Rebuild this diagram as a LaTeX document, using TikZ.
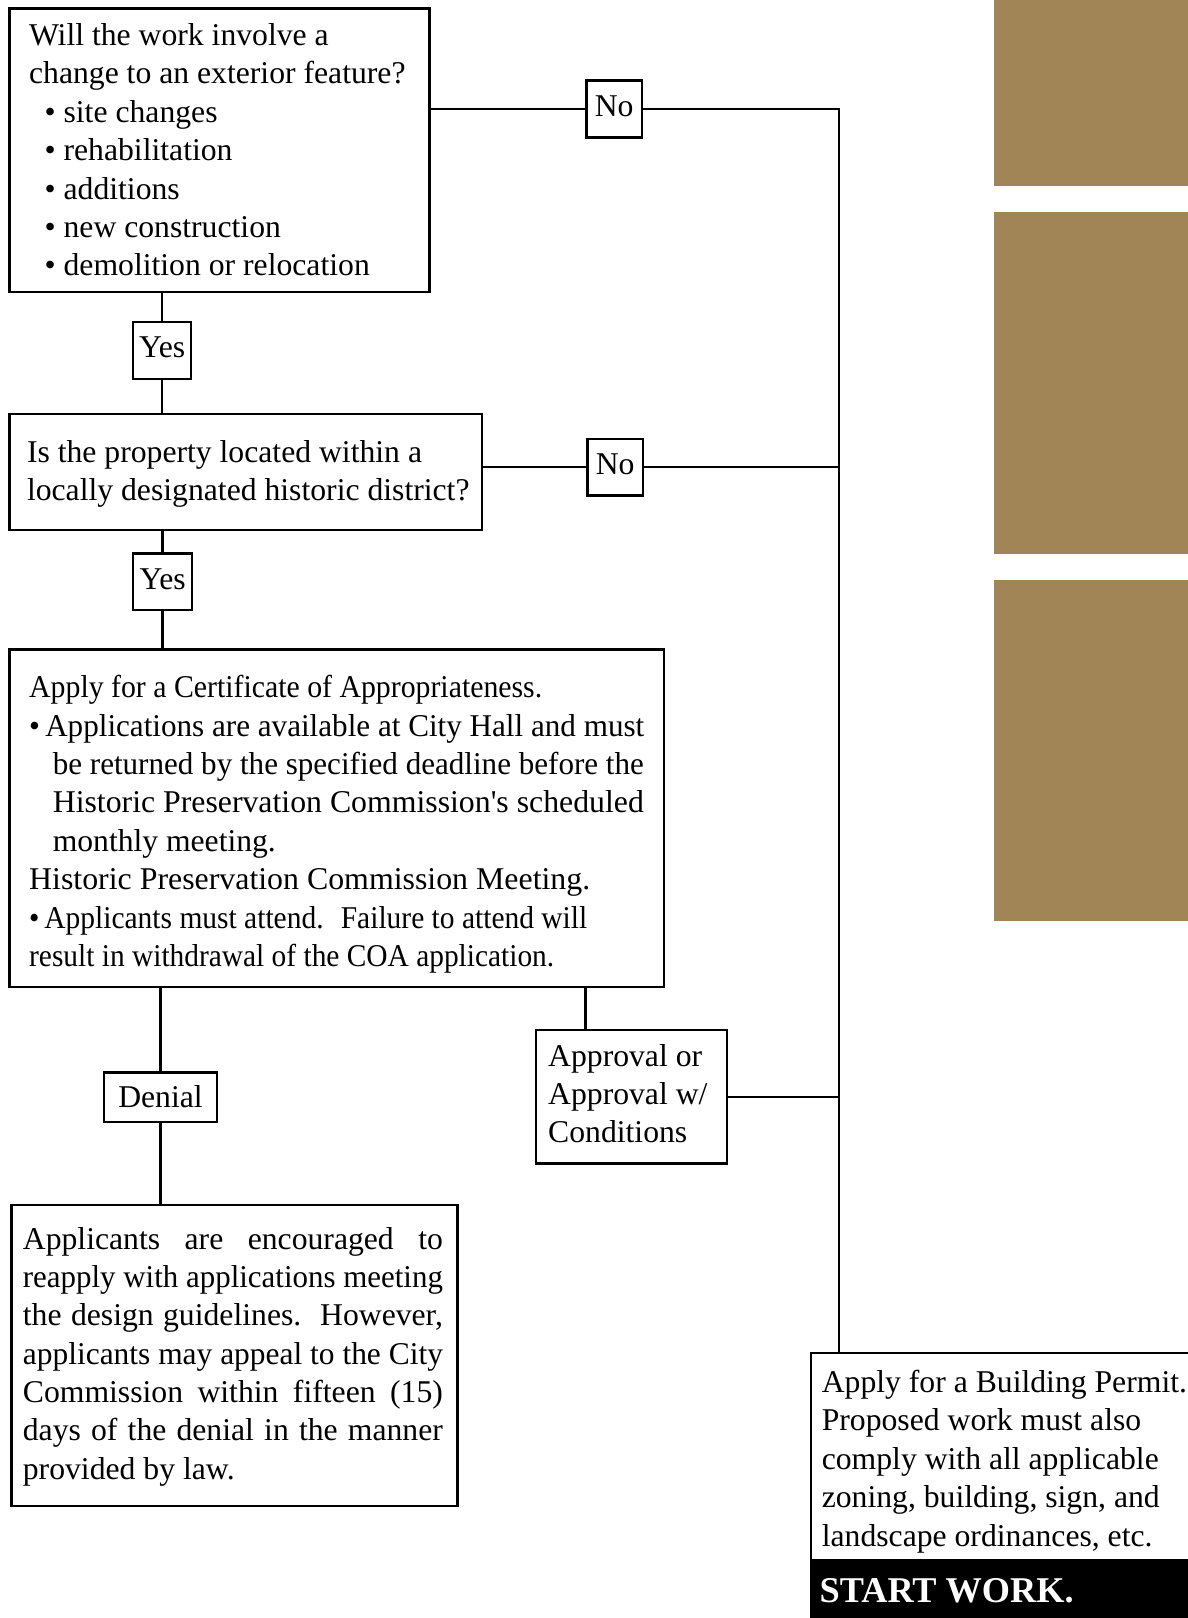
\documentclass[tikz,border=0pt]{standalone}
\usepackage{fontspec}
\setmainfont{Liberation Serif}
\usepackage{graphicx}
\definecolor{panel}{RGB}{161,133,87}
\newcommand\fitw[2]{\resizebox{#1}{\height}{#2}}
\newsavebox\jbox
\newcommand\jl[2]{\sbox\jbox{#2}\ifdim\wd\jbox>#1\relax\resizebox{#1}{\height}{\usebox\jbox}\else\makebox[#1][s]{#2}\fi}
\begin{document}
\begin{tikzpicture}[x=1bp,y=-1bp,
  txt/.style={font=\fontsize{31.8pt}{38.5pt}\selectfont},
  box/.style={txt,draw,line width=2.4bp,anchor=north west,inner ysep=0pt},
  lab/.style={txt,draw,line width=2.4bp,inner sep=0pt,fill=white,text height=22bp,text depth=7bp},
  conn/.style={line width=2.4bp}]
\useasboundingbox (0,0) rectangle (1187,1618);
% brown panels
\fill[panel] (994,0) rectangle (1190,186);
\fill[panel] (994,212) rectangle (1190,554);
\fill[panel] (994,580) rectangle (1190,921);
% boxes
\node[box,inner xsep=19.6bp,text height=37.2bp,text depth=246.6bp] (b1) at (8.3,7.2)
 {\makebox[380.9bp][l]{\begin{tabular}[t]{@{}l@{}}
 Will the work involve a\\
 change to an exterior feature?\\
 \hspace*{15.5bp}• site changes\\
 \hspace*{15.5bp}• rehabilitation\\
 \hspace*{15.5bp}• additions\\
 \hspace*{15.5bp}• new construction\\
 \hspace*{15.5bp}• demolition or relocation
 \end{tabular}}};
\node[box,inner xsep=17.5bp,text height=48.4bp,text depth=67.1bp] (b2) at (8.3,413)
 {\makebox[437.7bp][l]{\begin{tabular}[t]{@{}l@{}}
 Is the property located within a\\
 locally designated historic district?
 \end{tabular}}};
\node[box,inner xsep=19.7bp,text height=48.5bp,text depth=289.1bp] (b3) at (8.3,648.2)
 {\makebox[615bp][l]{\begin{tabular}[t]{@{}l@{}}
 \fitw{513bp}{Apply for a Certificate of Appropriateness.}\\
 \fitw{615bp}{•\,Applications are available at City Hall and must}\\
 \hspace*{23.6bp}\fitw{591bp}{be returned by the specified deadline before the}\\
 \hspace*{23.6bp}\fitw{591bp}{Historic Preservation Commission\textquotesingle s scheduled}\\
 \hspace*{23.6bp}\fitw{223bp}{monthly meeting.}\\
 \fitw{561bp}{Historic Preservation Commission Meeting.}\\
 \fitw{558bp}{•\,Applicants must attend.~ Failure to attend will}\\
 \fitw{525bp}{result in withdrawal of the COA application.}
 \end{tabular}}};
\node[box,inner xsep=11.4bp,text height=44.5bp,text depth=257bp] (b4) at (10.3,1203.5)
 {\makebox[423.1bp][l]{\begin{tabular}[t]{@{}l@{}}
 \jl{420bp}{Applicants are encouraged to}\\
 \jl{420bp}{reapply with applications meeting}\\
 \jl{420bp}{the design guidelines.\ \ However,}\\
 \jl{420bp}{applicants may appeal to the City}\\
 \jl{420bp}{Commission within fifteen (15)}\\
 \jl{420bp}{days of the denial in the manner}\\
 provided by law.
 \end{tabular}}};
\node[box,inner xsep=10.6bp,text height=39.4bp,text depth=167.2bp] (b5) at (810,1352)
 {\makebox[368.8bp][l]{\begin{tabular}[t]{@{}l@{}}
 Apply for a Building Permit.\\
 Proposed work must also\\
 comply with all applicable\\
 zoning, building, sign, and\\
 landscape ordinances, etc.
 \end{tabular}}};
\node[box,fill=black,inner xsep=8.5bp,text height=42.4bp,text depth=29bp,text=white,
  font=\fontsize{36.4pt}{40pt}\selectfont\bfseries] (sw) at (810,1558.6)
 {\makebox[373bp][l]{START WORK.}};
\node[box,inner xsep=12.3bp,text height=36bp,text depth=97.3bp] (appr) at (534.7,1029)
 {\makebox[166.4bp][l]{\begin{tabular}[t]{@{}l@{}}
 Approval or\\
 Approval w/\\
 Conditions
 \end{tabular}}};
% labels
\node[lab,minimum width=55.7bp,minimum height=56.8bp] (no1) at (614.2,108.9) {No};
\node[lab,minimum width=55.7bp,minimum height=56.8bp] (no2) at (615.2,467.1) {No};
\node[lab,minimum width=57.9bp,minimum height=56.8bp] (yes1) at (162.1,350.4) {Yes};
\node[lab,minimum width=58.8bp,minimum height=56.7bp] (yes2) at (162.6,581.7) {Yes};
\node[lab,minimum width=112.5bp,minimum height=49.5bp,text depth=2bp] (den) at (160.5,1097.2) {Denial};
% connectors
\coordinate (rv) at (839,108.9);
\coordinate (ap) at (585.3,1029);
\draw[conn] (no1.west) -- (no1.west -| b1.east);
\draw[conn] (no1.east) -- (rv) -- (rv |- b5.north);
\draw[conn] (no2.west) -- (no2.west -| b2.east);
\draw[conn] (no2.east) -- (no2.east -| rv);
\draw[conn] (appr.east) -- (appr.east -| rv);
\draw[conn] (yes1.north) -- (yes1.north |- b1.south);
\draw[conn] (yes1.south) -- (yes1.south |- b2.north);
\draw[conn] (yes2.north) -- (yes2.north |- b2.south);
\draw[conn] (yes2.south) -- (yes2.south |- b3.north);
\draw[conn] (den.north) -- (den.north |- b3.south);
\draw[conn] (den.south) -- (den.south |- b4.north);
\draw[conn] (ap) -- (ap |- b3.south);
\end{tikzpicture}
\end{document}
